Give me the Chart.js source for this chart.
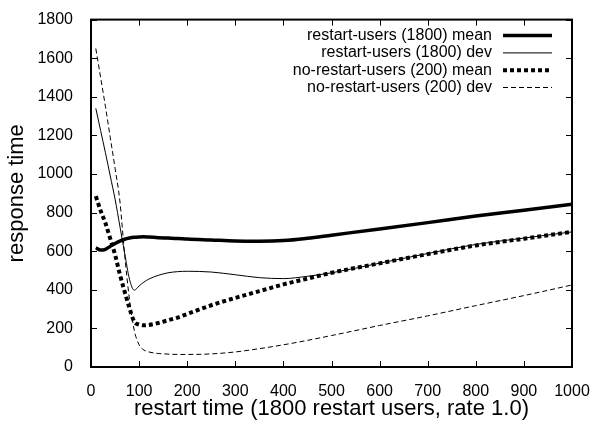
<!DOCTYPE html>
<html>
<head>
<meta charset="utf-8">
<script src="https://cdn.jsdelivr.net/npm/chart.js@4.4.1/dist/chart.umd.min.js"></script>
<style>
  html, body { margin: 0; padding: 0; background: #fff; }
  #wrap { width: 593px; height: 426px; }
</style>
</head>
<body>
<div id="wrap"><canvas id="myChart" width="593" height="426"></canvas></div>
<script>
// restart time samples
const restartTimes = [10, 20, 30, 40, 50, 60, 70, 80, 90, 100, 110, 120, 140, 160, 180, 200, 250, 300, 350, 400, 450, 500, 600, 700, 800, 900, 1000]

const restartMean   = [618, 606, 610, 625, 640, 652, 662, 668, 672, 674, 675, 673, 670, 668, 666, 663, 658, 653, 652, 655, 667, 683, 715, 748, 782, 812, 843]
const restartDev    = [1340, 1225, 1110, 990, 870, 730, 590, 455, 398, 420, 440, 455, 475, 488, 494, 496, 492, 478, 463, 458, 470, 488, 538, 588, 635, 668, 700]
const noRestartMean = [885, 810, 745, 665, 582, 480, 390, 305, 235, 220, 216, 218, 228, 242, 256, 275, 320, 358, 393, 428, 458, 488, 537, 585, 630, 665, 700]
const noRestartDev  = [1650, 1500, 1350, 1190, 1030, 860, 580, 350, 190, 115, 88, 78, 70, 67, 65, 65, 68, 78, 95, 115, 138, 163, 215, 265, 318, 370, 425]

const seriesLabels = ['restart-users (1800) mean', 'restart-users (1800) dev', 'no-restart-users (200) mean', 'no-restart-users (200) dev']
const xTicks = [0, 100, 200, 300, 400, 500, 600, 700, 800, 900, 1000]
const yTicks = [0, 200, 400, 600, 800, 1000, 1200, 1400, 1600, 1800]

const FONT = 'Liberation Sans, Arial, Helvetica, sans-serif'

function pts(ys) {
  return restartTimes.map((x, i) => ({ x: x, y: ys[i] }))
}

// frame + inward ticks on all four sides (gnuplot style)
const framePlugin = {
  id: 'frame',
  afterDraw(chart) {
    const ctx = chart.ctx
    const a = chart.chartArea
    const xs = chart.scales.x
    const ys = chart.scales.y
    ctx.save()
    ctx.strokeStyle = '#000'
    ctx.lineWidth = 1
    const len = 6
    ctx.beginPath()
    xTicks.forEach(t => {
      const px = Math.round(xs.getPixelForValue(t)) + 0.5
      ctx.moveTo(px, a.bottom); ctx.lineTo(px, a.bottom - len)
      ctx.moveTo(px, a.top); ctx.lineTo(px, a.top + len)
    })
    yTicks.forEach(t => {
      const py = Math.round(ys.getPixelForValue(t)) + 0.5
      ctx.moveTo(a.left, py); ctx.lineTo(a.left + len, py)
      ctx.moveTo(a.right, py); ctx.lineTo(a.right - len, py)
    })
    ctx.stroke()
    ctx.lineWidth = 2
    ctx.strokeRect(a.left, a.top, a.right - a.left, a.bottom - a.top)
    ctx.restore()
  }
}

// key in the top right, text right aligned, line sample after it
const keyPlugin = {
  id: 'key',
  afterDraw(chart) {
    const ctx = chart.ctx
    const a = chart.chartArea
    ctx.save()
    ctx.font = '16px ' + FONT
    ctx.fillStyle = '#000'
    ctx.textAlign = 'right'
    ctx.textBaseline = 'middle'
    chart.data.datasets.forEach((ds, i) => {
      const y = a.top + 16 + i * 17.3
      ctx.fillText(ds.label, a.right - 80, y)
      ctx.strokeStyle = '#000'
      ctx.lineWidth = ds.borderWidth
      ctx.setLineDash(ds.borderDash || [])
      ctx.beginPath()
      ctx.moveTo(a.right - 69, y)
      ctx.lineTo(a.right - 20, y)
      ctx.stroke()
    })
    ctx.restore()
  }
}

const chart = new Chart(document.querySelector('#myChart'), {
  type: 'line',
  data: {
    datasets: [
      { label: seriesLabels[0], data: pts(restartMean), borderColor: '#000', borderWidth: 3.5 },
      { label: seriesLabels[1], data: pts(restartDev), borderColor: '#000', borderWidth: 1 },
      { label: seriesLabels[2], data: pts(noRestartMean), borderColor: '#000', borderWidth: 4, borderDash: [4, 3] },
      { label: seriesLabels[3], data: pts(noRestartDev), borderColor: '#000', borderWidth: 1, borderDash: [5, 3] }
    ]
  },
  options: {
    responsive: false,
    animation: false,
    devicePixelRatio: 1,
    elements: {
      point: { radius: 0 },
      line: { cubicInterpolationMode: 'monotone', fill: false }
    },
    layout: { padding: { top: 15, right: 21, left: 0, bottom: 0 } },
    plugins: {
      legend: { display: false },
      tooltip: { enabled: false }
    },
    scales: {
      x: {
        type: 'linear',
        min: 0,
        max: 1000,
        afterBuildTicks: s => { s.ticks = xTicks.map(v => ({ value: v })) },
        afterFit: s => { s.height = 59; s.paddingRight = 0; s.paddingLeft = 0 },
        grid: { display: false },
        border: { display: false },
        ticks: { color: '#000', font: { family: FONT, size: 16 }, padding: 7, maxRotation: 0, callback: v => String(v) },
        title: { display: true, text: 'restart time (1800 restart users, rate 1.0)', color: '#000', font: { family: FONT, size: 22 }, padding: { top: 0 } }
      },
      y: {
        min: 0,
        max: 1800,
        afterBuildTicks: s => { s.ticks = yTicks.map(v => ({ value: v })) },
        afterFit: s => { s.width = 91 },
        grid: { display: false },
        border: { display: false },
        ticks: { color: '#000', font: { family: FONT, size: 16 }, padding: 10, callback: v => String(v) },
        title: { display: true, text: 'response time', color: '#000', font: { family: FONT, size: 22 }, padding: { bottom: 2 } }
      }
    }
  },
  plugins: [framePlugin, keyPlugin]
})
</script>
</body>
</html>
